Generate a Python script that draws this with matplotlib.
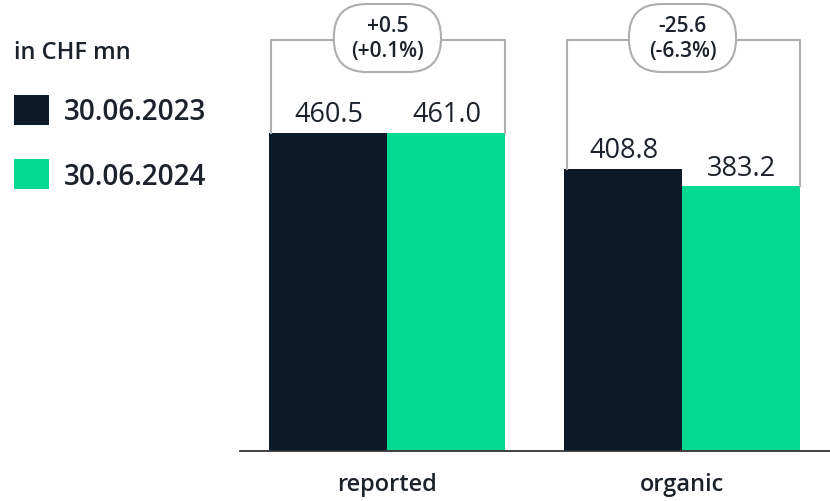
import numpy as np
from matplotlib import pyplot as plt
from matplotlib.patches import FancyBboxPatch

plt.rcParams['font.family'] = ['Open Sans', 'DejaVu Sans']

categories = ['reported', 'organic']
series_names = ['30.06.2023', '30.06.2024']
values_2023 = [460.5, 408.8]
values_2024 = [461.0, 383.2]
changes = ['+0.5\n(+0.1%)', '-25.6\n(-6.3%)']

dark, green, grey = '#0b1a26', '#04d891', '#aeaeae'
txt = '#1c222b'

fig = plt.figure(figsize=(8.3, 5.02), dpi=100)
ax = fig.add_axes([0.289, 0.0996, 0.711, 0.9004])

x = np.arange(len(categories))
w = 0.4
b1 = ax.bar(x - w/2, values_2023, w, color=dark, label=series_names[0])
b2 = ax.bar(x + w/2, values_2024, w, color=green, label=series_names[1])

for bars in (b1, b2):
    for r in bars:
        ax.annotate(f'{r.get_height():.1f}', (r.get_x() + r.get_width()/2, r.get_height()),
                    xytext=(0, 13.5), textcoords='offset points', ha='center', va='center',
                    fontsize=19.5, color=txt)

ax.set_xlim(-0.5, 1.5)
ax.set_ylim(0, 654.5)

# change brackets + rounded label box
top = 595
bw, bh = 0.363, 98.5   # box size in data units (~107 x 68 px)
asp = (1/0.6906) / (1/295.0)
for i, lab in enumerate(changes):
    l, r = x[i] - w + 0.007, x[i] + w - 0.003
    ax.plot([l, l, r, r], [values_2023[i], top, top, values_2024[i]], color=grey, lw=1.5,
            solid_joinstyle='round', zorder=1)
    ax.add_patch(FancyBboxPatch((x[i] - bw/2, top + 3 - bh/2), bw, bh,
                                boxstyle='round,pad=0,rounding_size=0.112', mutation_aspect=asp,
                                fc='white', ec=grey, lw=1.5, zorder=2))
    ax.text(x[i], top + 3, lab, ha='center', va='center', fontsize=15, fontweight='semibold',
            color=txt, linespacing=1.2, zorder=3)

ax.set_xticks(x, categories, fontsize=17, fontweight='semibold', color=txt)
ax.tick_params(axis='x', length=0, pad=15)
ax.set_yticks([])
for s in ('left', 'right', 'top'):
    ax.spines[s].set_visible(False)
ax.spines['bottom'].set_color('#333333')
ax.spines['bottom'].set_linewidth(1.3)

leg = fig.legend(handles=[b1, b2], loc='upper left', bbox_to_anchor=(0.0, 0.945),
                 title='in CHF mn', frameon=False, alignment='left',
                 prop={'size': 20, 'weight': 'semibold'}, handlelength=1.26, handleheight=1.26,
                 labelspacing=1.2, handletextpad=0.54, borderaxespad=0, borderpad=0.5)
leg.get_title().set_fontsize(17)
leg.get_title().set_fontweight('semibold')
leg._legend_box.sep = 22
for t in leg.get_texts() + [leg.get_title()]:
    t.set_color(txt)

fig.savefig('out.png', dpi=100)
